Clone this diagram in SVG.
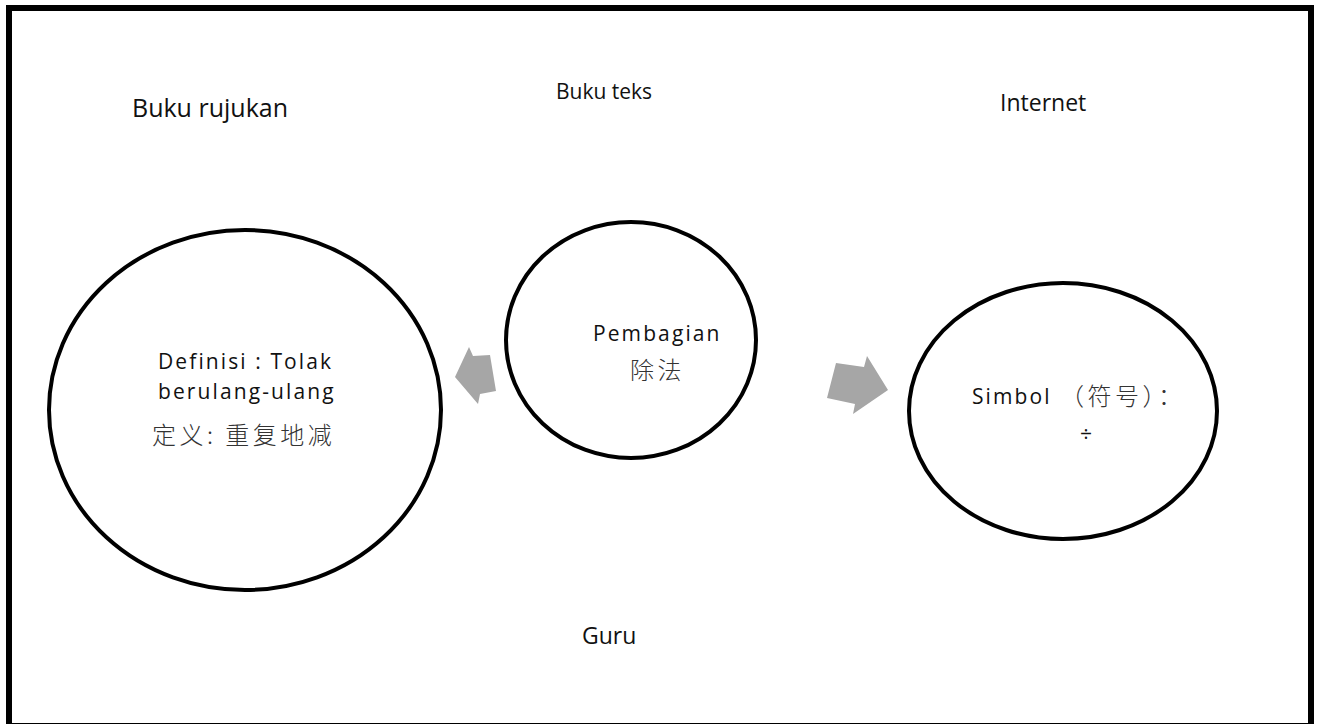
<svg xmlns="http://www.w3.org/2000/svg" width="1320" height="724" viewBox="0 0 1320 724">
  <style>
    .frame { fill: none; stroke: #000; stroke-width: 6; }
    .node { fill: #fff; stroke: #000; stroke-width: 4; }
    .arrow { fill: #a6a6a6; stroke: none; }
    .lbl { font-family: "Open Sans", "Noto Sans CJK SC", sans-serif; fill: #111; }
    .in { font-family: "Open Sans", "Noto Sans CJK SC", sans-serif; font-size: 21px; letter-spacing: 2.1px; fill: #111; }
    .zh { font-family: "Noto Sans CJK SC", sans-serif; font-size: 24px; letter-spacing: 3.5px; fill: #333; font-weight: 300; }
  </style>
  <rect x="0" y="0" width="1320" height="724" fill="#fff"/>
  <rect class="frame" x="9" y="8" width="1302" height="718"/>

  <!-- free-standing source labels -->
  <g id="labels">
    <text class="lbl" x="132" y="117" font-size="25">Buku rujukan</text>
    <text class="lbl" x="556" y="99" font-size="21">Buku teks</text>
    <text class="lbl" x="1000" y="111" font-size="23">Internet</text>
    <text class="lbl" x="582" y="644" font-size="23">Guru</text>
  </g>

  <g id="connectors">
    <polygon class="arrow" points="455,377 469,347 473,356 490,355 496,391 480,394 478,404"/>
    <polygon class="arrow" points="836,363 864,367 867,356 888,390 853,414 855,404 827,398"/>
  </g>

  <g id="node-definisi">
    <ellipse class="node" cx="245" cy="410" rx="196" ry="180"/>
    <text class="in" x="158" y="369">Definisi : Tolak</text>
    <text class="in" x="158" y="399">berulang-ulang</text>
    <text class="zh" x="152" y="444">定义: 重复地减</text>
  </g>

  <g id="node-pembagian">
    <ellipse class="node" cx="631" cy="340" rx="125" ry="118"/>
    <text class="in" x="593" y="341">Pembagian</text>
    <text class="zh" x="630" y="379">除法</text>
  </g>

  <g id="node-simbol">
    <ellipse class="node" cx="1063" cy="411" rx="154" ry="128"/>
    <text class="in" x="972" y="404">Simbol</text>
    <text class="zh" x="1060" y="405">（符号）：</text>
    <text class="in" x="1080" y="442" font-size="26" letter-spacing="0">÷</text>
  </g>
</svg>
